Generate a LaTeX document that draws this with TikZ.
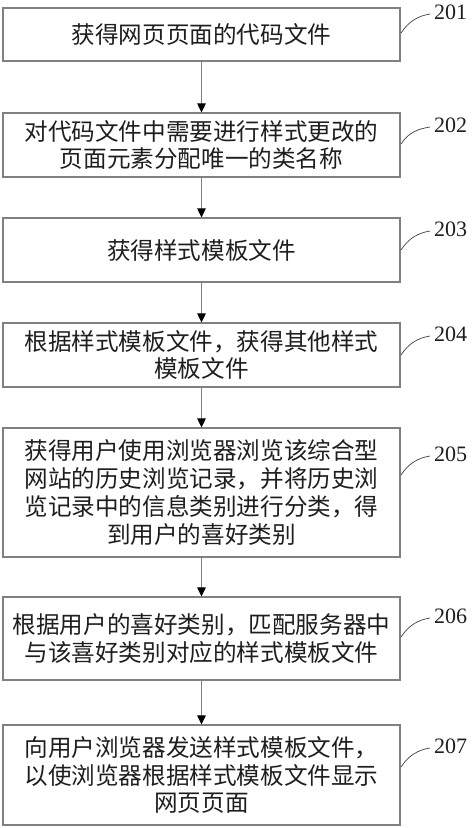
\documentclass[tikz,border=0pt]{standalone}
\usepackage{fontspec}
\setmainfont{Liberation Serif}
\newfontfamily\cjk{Noto Sans CJK SC}
\usetikzlibrary{arrows.meta}
\definecolor{lineg}{HTML}{808080}
\definecolor{txt}{HTML}{1E1E1E}
\tikzset{
  stepbox/.style={draw=lineg, line width=1.1pt, minimum width=397pt, inner sep=0pt,
    align=center, text=txt, font={\cjk\fontsize{23.6}{27.8}\selectfont}},
  flow/.style={draw=lineg, line width=0.9pt, -{Triangle[width=8.5pt,length=9pt,fill=black,color=black]}},
  numlbl/.style={anchor=west, inner sep=1pt, text=txt, font={\fontsize{22}{24}\selectfont}},
  leader/.style={draw=black!75, line width=0.7pt}
}
\begin{document}
\begin{tikzpicture}[x=1pt,y=-1pt]
\useasboundingbox (0,0) rectangle (474,828);
\node[stepbox, minimum height=53pt]  (b1) at (201.5,34.5) {获得网页页面的代码文件};
\node[stepbox, minimum height=64pt]  (b2) at (201.5,145)  {对代码文件中需要进行样式更改的\\页面元素分配唯一的类名称};
\node[stepbox, minimum height=64pt]  (b3) at (201.5,250)  {获得样式模板文件};
\node[stepbox, minimum height=64pt]  (b4) at (201.5,355)  {根据样式模板文件，获得其他样式\\模板文件};
\node[stepbox, minimum height=129pt] (b5) at (201.5,492.5) {获得用户使用浏览器浏览该综合型\\网站的历史浏览记录，并将历史浏\\览记录中的信息类别进行分类，得\\到用户的喜好类别};
\node[stepbox, minimum height=83pt]  (b6) at (201.5,638.5) {根据用户的喜好类别，匹配服务器中\\与该喜好类别对应的样式模板文件};
\node[stepbox, minimum height=100pt] (b7) at (201.5,775)  {向用户浏览器发送样式模板文件，\\以使浏览器根据样式模板文件显示\\网页页面};

\draw[flow] (b1) -- (b2);
\draw[flow] (b2) -- (b3);
\draw[flow] (b3) -- (b4);
\draw[flow] (b4) -- (b5);
\draw[flow] (b5) -- (b6);
\draw[flow] (b6) -- (b7);

\node[numlbl] (l1) at (433,12)  {201};
\node[numlbl] (l2) at (433,125) {202};
\node[numlbl] (l3) at (433,229) {203};
\node[numlbl] (l4) at (433,334) {204};
\node[numlbl] (l5) at (433,454) {205};
\node[numlbl] (l6) at (433,616) {206};
\node[numlbl] (l7) at (433,746) {207};

\coordinate (s1) at (401,33);
\coordinate (s2) at (401,144);
\coordinate (s3) at (401,250);
\coordinate (s4) at (401,355);
\coordinate (s5) at (401,475);
\coordinate (s6) at (401,637);
\coordinate (s7) at (401,767);
\foreach \i in {1,...,7}{
  \draw[leader] (s\i) .. controls +(8,-12) and +(-12,2) .. ([xshift=-3pt,yshift=-2pt]l\i.west);
}
\end{tikzpicture}
\end{document}
